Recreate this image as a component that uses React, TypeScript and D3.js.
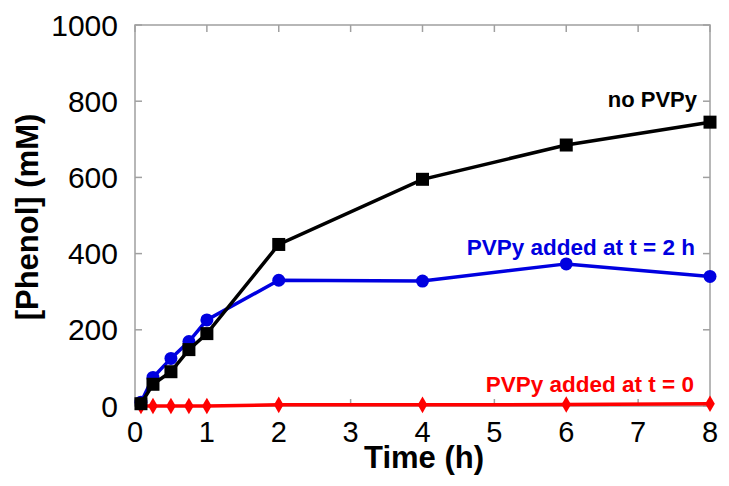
import React from "react";
import * as d3 from "d3";

const times = [0.083, 0.25, 0.5, 0.75, 1, 2, 4, 6, 8];
const noPVPy = [6, 57, 90, 148, 190, 424, 595, 685, 745];
const pvpy2h = [10, 75, 125, 169, 226, 330, 328, 373, 340];
const pvpy0 = [0, 0, 0, 0, 0, 3, 3, 4, 6];
const xTicks = [0, 1, 2, 3, 4, 5, 6, 7, 8];
const yTicks = [0, 200, 400, 600, 800, 1000];

const W = 729, H = 486;
const L = 135, R = 710, T = 25, B = 406;

export default function App() {
  const x = d3.scaleLinear().domain([0, 8]).range([L, R]);
  const y = d3.scaleLinear().domain([0, 1000]).range([B, T]);
  const line = (vals: number[]) =>
    d3.line<number>().x((_, i) => x(times[i])).y((v) => y(v))(vals) || "";
  const font = "'Liberation Sans', Arial, sans-serif";
  const diamond = d3.symbol().type(d3.symbolDiamond).size(80)() || "";
  const frame = "#a0a0a0";
  return (
    <svg width={W} height={H} style={{ position: "absolute", left: 0, top: 0 }} fontFamily={font}>
      <rect x={0} y={0} width={W} height={H} fill="#fff" />
      <rect x={L} y={T} width={R - L} height={B - T} fill="none" stroke={frame} strokeWidth={1.5} />
      {yTicks.map((t) => (
        <g key={"y" + t}>
          <line x1={L} x2={L + 7} y1={y(t)} y2={y(t)} stroke={frame} strokeWidth={1.5} />
          <line x1={R - 7} x2={R} y1={y(t)} y2={y(t)} stroke={frame} strokeWidth={1.5} />
          <text x={118} y={y(t) + 10.5} textAnchor="end" fontSize={30}>{t}</text>
        </g>
      ))}
      {xTicks.map((t) => (
        <g key={"x" + t}>
          <line x1={x(t)} x2={x(t)} y1={B} y2={B - 7} stroke={frame} strokeWidth={1.5} />
          <line x1={x(t)} x2={x(t)} y1={T} y2={T + 7} stroke={frame} strokeWidth={1.5} />
          <text x={x(t)} y={442} textAnchor="middle" fontSize={29}>{t}</text>
        </g>
      ))}
      <text x={424} y={468} textAnchor="middle" fontSize={31} fontWeight="bold">Time (h)</text>
      <text transform={`translate(38,217) rotate(-90)`} textAnchor="middle" fontSize={31} fontWeight="bold">[Phenol] (mM)</text>

      <path d={line(pvpy0)} fill="none" stroke="#ff0000" strokeWidth={3.5} />
      {pvpy0.map((v, i) => (
        <path key={"r" + i} d={diamond} transform={`translate(${x(times[i])},${y(v)})`} fill="#ff0000" />
      ))}
      <path d={line(pvpy2h)} fill="none" stroke="#0000e0" strokeWidth={3.5} />
      {pvpy2h.map((v, i) => (
        <circle key={"b" + i} cx={x(times[i])} cy={y(v)} r={6.5} fill="#0000e0" />
      ))}
      <path d={line(noPVPy)} fill="none" stroke="#000" strokeWidth={3.5} />
      {noPVPy.map((v, i) => (
        <rect key={"k" + i} x={x(times[i]) - 6.5} y={y(v) - 6.5} width={13} height={13} fill="#000" />
      ))}

      <text x={697} y={107} textAnchor="end" fontSize={22} fontWeight="bold" fill="#000">no PVPy</text>
      <text x={695} y={255} textAnchor="end" fontSize={22.5} fontWeight="bold" fill="#0000e0">PVPy added at t = 2 h</text>
      <text x={694} y={392} textAnchor="end" fontSize={22.5} fontWeight="bold" fill="#ff0000">PVPy added at t = 0</text>
    </svg>
  );
}
